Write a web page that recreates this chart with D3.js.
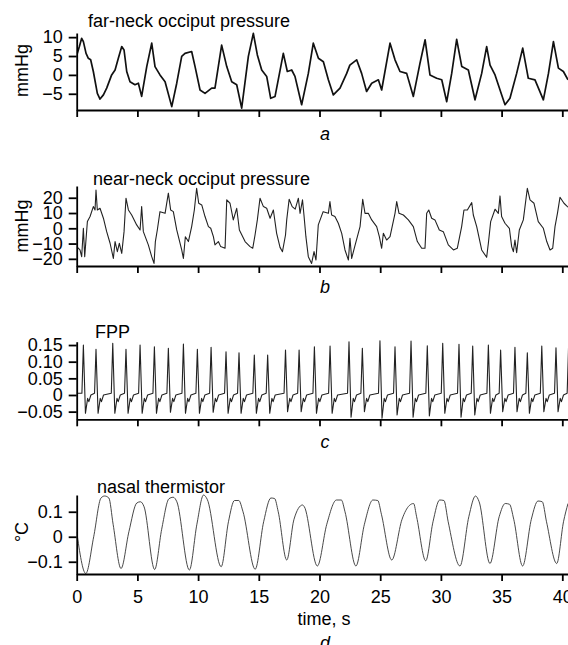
<!DOCTYPE html>
<html>
<head>
<meta charset="utf-8">
<script src="https://cdn.jsdelivr.net/npm/d3@7"></script>
<style>
  body { margin: 0; background: #fff; }
  svg text { font-family: "Liberation Sans", Arial, Helvetica, sans-serif; fill: #000; }
</style>
</head>
<body>
<div id="chart"></div>
<script>
// ---- data ----
const timeTicks = [0, 5, 10, 15, 20, 25, 30, 35, 40];

// a: far-neck occiput pressure, mmHg  [time s, value]
const farNeck = [
  [0.05, 5.7], [0.22, 7.5], [0.41, 9.7], [0.55, 8.8], [0.77, 5.7], [0.96, 4.4], [1.15, 4.0], [1.37, 0.9],
  [1.7, -4.9], [1.92, -6.4], [2.2, -5.3], [2.47, -3.5], [2.88, 0], [3.16, 1.3], [3.43, 4.4], [3.71, 7.5],
  [3.9, 6.6], [4.12, 0.9], [4.39, -1.8], [4.8, -2.6], [5.08, -2.2], [5.35, -5.7], [5.77, 2.2], [6.18, 8.4],
  [6.45, 2.2], [6.86, 0], [7.28, -1.8], [7.83, -8.4], [8.24, -2.2], [8.65, 4.9], [8.92, 5.7], [9.47, 6.2],
  [9.75, 2.2], [10.16, -4.0], [10.57, -4.9], [11.12, -3.5], [11.39, -3.5], [11.94, 7.9], [12.36, 2.2],
  [12.77, -1.8], [13.18, -2.6], [13.59, -8.8], [14.14, 4.9], [14.55, 11.0], [14.88, 5.3], [15.24, 1.3],
  [15.65, -0.4], [15.98, -6.2], [16.34, -5.7], [17.02, 5.7], [17.35, 0.9], [17.71, 1.3], [17.98, -0.4],
  [18.53, -7.9], [19.08, 0.4], [19.49, 8.4], [19.91, 4.4], [20.32, 3.5], [20.73, -1.3], [21.14, -5.3],
  [21.69, -3.5], [22.24, 0.4], [22.5, 2.6], [23.06, 4.0], [23.47, 0.4], [23.88, -4.4], [24.3, -2.2],
  [24.85, -1.3], [25.12, -4.0], [25.81, 8.4], [26.22, 4.0], [26.63, 0.9], [27.18, 0.4], [27.73, -5.7],
  [28.28, 3.1], [28.7, 9.3], [29.1, 0], [29.65, -0.9], [30.07, -1.3], [30.48, -7.1], [30.89, 0.4],
  [31.3, 9.4], [31.72, 2.2], [32.26, 1.3], [32.81, -6.6], [33.36, 0.4], [33.77, 7.5], [34.05, 2.6],
  [34.46, 0], [35.01, -5.3], [35.28, -7.9], [35.69, -6.2], [36.24, 0.4], [36.74, 7.1], [37.2, -0.9],
  [37.75, -1.3], [38.44, -6.6], [38.86, 0.4], [39.27, 8.8], [39.68, 1.8], [40.09, 0.9], [40.47, -1.3]
];

// b: near-neck occiput pressure, mmHg
const nearNeck = [
  [0, -12.0], [0.27, -14.2], [0.41, -18.6], [0.55, 0], [0.66, -18.6], [0.88, 4.4], [1.1, 7.7], [1.37, 14.2],
  [1.51, 12.0], [1.59, 25.1], [1.7, 12.0], [1.92, 13.1], [2.2, 6.6], [2.47, -2.2], [2.75, -9.8], [3.02, -19.7],
  [3.16, -8.7], [3.35, -15.3], [3.51, -9.8], [3.71, -16.4], [3.9, -2.2], [4.06, 19.7], [4.26, 12.0],
  [4.53, 8.7], [4.94, 2.2], [5.22, -1.1], [5.35, 14.2], [5.49, -2.2], [5.9, -10.9], [6.18, -18.6],
  [6.37, -23.0], [6.48, -8.7], [6.64, -1.1], [6.86, 10.9], [7.28, 9.8], [7.55, 23.0], [7.74, 12.0],
  [7.96, 10.9], [8.24, -1.1], [8.65, -14.2], [8.79, -19.7], [8.95, -5.5], [9.2, -8.7], [9.47, 1.1],
  [9.69, 12.0], [9.88, 26.2], [10.05, 16.4], [10.3, 15.3], [10.57, 7.7], [10.85, 1.1], [11.04, 0],
  [11.26, -5.5], [11.39, -10.9], [11.67, -8.7], [11.86, -12.0], [12.22, -13.1], [12.36, 18.6], [12.63, 16.4],
  [12.9, 5.5], [13.18, 13.1], [13.4, -1.1], [13.87, -8.7], [14.28, -12.0], [14.5, -13.1], [14.69, -4.4],
  [14.88, 5.5], [15.1, 19.7], [15.38, 14.2], [15.65, 13.1], [15.93, 6.6], [16.2, 12.0], [16.47, -3.3],
  [16.75, -12.5], [16.95, -15.3], [17.2, -4.4], [17.3, 5.5], [17.5, 19.0], [17.75, 14.2], [18.0, 12.5],
  [18.26, 19.7], [18.4, 9.8], [18.6, 18.6], [18.72, 8.7], [18.88, -5.5], [19.08, -18.6], [19.35, -23.0],
  [19.55, -15.3], [19.71, -20.8], [19.9, 2.2], [20.3, 10.9], [20.73, 9.8], [20.86, 17.5], [21.0, 8.7],
  [21.27, 7.7], [21.55, 3.3], [21.83, -3.3], [22.1, -14.2], [22.38, -20.8], [22.51, -6.6], [22.65, -19.7],
  [22.9, -12.0], [23.34, 1.1], [23.56, 19.0], [23.75, 9.8], [24.02, 9.8], [24.3, 5.5], [24.71, 1.1],
  [24.93, -5.5], [25.12, -13.1], [25.26, -3.3], [25.53, -7.7], [25.81, -5.5], [26.22, 9.8], [26.36, 17.5],
  [26.55, 9.8], [26.91, 8.7], [27.32, 5.5], [27.73, 1.1], [28.06, -8.7], [28.42, -13.1], [28.69, -13.1],
  [28.83, 9.8], [29.0, 12.0], [29.24, 6.6], [29.51, 5.5], [29.87, -1.1], [30.2, -2.2], [30.61, -10.9],
  [31.03, -14.2], [31.35, -13.1], [31.71, 1.1], [31.9, 12.0], [32.18, 12.0], [32.54, 16.8], [32.67, 8.7],
  [32.95, 1.1], [33.36, -14.2], [33.77, -19.0], [33.91, -9.8], [34.1, 4.4], [34.46, 12.5], [34.73, 9.8],
  [34.87, 21.2], [35.0, 7.7], [35.28, 3.3], [35.64, 0], [35.83, -12.0], [35.97, -15.3], [36.1, -7.7],
  [36.24, -16.0], [36.46, -1.1], [36.79, 5.5], [37.12, 26.2], [37.34, 18.6], [37.67, 16.4], [38.02, 4.4],
  [38.44, 0], [38.72, -8.7], [38.99, -14.2], [39.21, -13.1], [39.4, 1.1], [39.6, 9.8], [39.81, 20.3],
  [40.14, 16.4], [40.47, 13.8]
];

// c: FPP, one entry per beat
const fppBeatTimes = [0.55, 1.59, 2.97, 4.06, 5.22, 6.40, 7.55, 8.79, 9.94, 11.07, 12.30, 13.37, 14.63, 15.73,
  17.20, 18.32, 19.58, 20.87, 22.43, 23.53, 24.98, 26.22, 27.54, 28.88, 30.15, 31.49, 32.62, 33.91, 34.92,
  36.10, 37.12, 38.31, 39.48, 40.52];
const fppPeaks = [0.150, 0.137, 0.155, 0.137, 0.150, 0.145, 0.140, 0.153, 0.137, 0.143, 0.130, 0.127, 0.120,
  0.120, 0.135, 0.135, 0.145, 0.147, 0.160, 0.140, 0.163, 0.145, 0.162, 0.148, 0.155, 0.152, 0.147, 0.150,
  0.135, 0.143, 0.127, 0.147, 0.142, 0.150];
const fppTroughs = [-0.055, -0.055, -0.055, -0.055, -0.055, -0.055, -0.052, -0.055, -0.055, -0.052, -0.055,
  -0.055, -0.055, -0.055, -0.050, -0.050, -0.055, -0.055, -0.067, -0.050, -0.070, -0.060, -0.067, -0.063,
  -0.055, -0.067, -0.060, -0.055, -0.050, -0.050, -0.055, -0.050, -0.050, -0.055];
// shape of one beat: offset from the peak (s) and level (peak / trough of that beat)
const fppShapeOffsets = [-0.12, 0, 0.17, 0.35, 0.45, 0.62];
const fppShapeLevels = [0.005, "peak", "trough", -0.01, -0.02, 0.0];

// d: nasal thermistor, degC
const thermistor = [
  [0, 0.02], [0.75, -0.147], [1.4, 0.0], [2.0, 0.155], [2.3, 0.163], [2.65, 0.155], [3.0, 0.05],
  [3.65, -0.127], [4.3, 0.02], [4.95, 0.135], [5.25, 0.14], [5.55, 0.12], [6.42, -0.131], [7.0, 0.03],
  [7.6, 0.152], [7.95, 0.158], [8.25, 0.14], [9.28, -0.133], [9.9, 0.05], [10.45, 0.167], [10.75, 0.15],
  [11.9, -0.12], [12.5, 0.06], [13.0, 0.145], [13.35, 0.145], [13.7, 0.1], [14.7, -0.13], [15.4, 0.06],
  [16.0, 0.155], [16.3, 0.153], [16.6, 0.1], [17.3, -0.093], [17.9, 0.07], [18.6, 0.127], [18.75, 0.12],
  [19.82, -0.117], [20.6, 0.05], [21.4, 0.147], [21.8, 0.147], [22.1, 0.1], [23.0, -0.117], [23.7, 0.05],
  [24.4, 0.147], [24.8, 0.145], [25.1, 0.09], [25.95, -0.093], [26.8, 0.07], [27.4, 0.125], [27.75, 0.133],
  [28.0, 0.08], [28.75, -0.096], [29.35, 0.06], [29.9, 0.147], [30.25, 0.145], [30.6, 0.06], [31.57, -0.117],
  [32.3, 0.08], [32.85, 0.163], [33.15, 0.14], [34.04, -0.107], [34.8, 0.08], [35.3, 0.133], [35.65, 0.13],
  [36.0, 0.07], [36.73, -0.117], [37.45, 0.07], [38.0, 0.143], [38.35, 0.14], [38.7, 0.06], [39.54, -0.107],
  [40.1, 0.06], [40.47, 0.133]
];

const aTicks = [-5, 0, 5, 10];
const bTicks = [-20, -10, 0, 10, 20];
const cTicks = [-0.05, 0, 0.05, 0.10, 0.15];
const dTicks = [-0.1, 0, 0.1];

// build the FPP trace from the beat table
const fpp = [[0, 0.005]];
fppBeatTimes.forEach((t, i) => {
  fppShapeOffsets.forEach((dt, j) => {
    const lv = fppShapeLevels[j];
    const v = lv === "peak" ? fppPeaks[i] : lv === "trough" ? fppTroughs[i] : lv;
    fpp.push([t + dt, v]);
  });
});

// ---- layout ----
const W = 568, H = 645;
const svg = d3.select("#chart").append("svg")
    .attr("width", W)
    .attr("height", H);

svg.append("clipPath").attr("id", "plotclip")
  .append("rect").attr("x", 76.7).attr("y", 0).attr("width", W - 76.7).attr("height", H);

const x = d3.scaleLinear().domain([0, 40.47]).range([76.7, 568]);

const fmt2 = d => d === 0 ? "0" : d3.format(".2f")(d);
const fmt1 = d => d === 0 ? "0" : d3.format(".1f")(d);

const panels = [
  { data: farNeck, domain: [-9.3, 11.1], top: 33, bottom: 110, ticks: aTicks, fmt: d3.format("d"),
    title: "far-neck occiput pressure", tx: 88, ty: 27, ylabel: "mmHg", ly: 70.5, letter: "a", lb: 140,
    sw: 1.7, col: "#111" },
  { data: nearNeck, domain: [-24.7, 27.7], top: 186, bottom: 266, ticks: bTicks, fmt: d3.format("d"),
    title: "near-neck occiput pressure", tx: 93, ty: 185, ylabel: "mmHg", ly: 226, letter: "b", lb: 293,
    sw: 1.1, col: "#222" },
  { data: fpp, domain: [-0.073, 0.16], top: 341.7, bottom: 419.3, ticks: cTicks, fmt: fmt2,
    title: "FPP", tx: 95, ty: 338, ylabel: null, letter: "c", lb: 448, sw: 1.1, col: "#222" },
  { data: thermistor, domain: [-0.149, 0.167], top: 495, bottom: 574, ticks: dTicks, fmt: fmt1,
    title: "nasal thermistor", tx: 97, ty: 493, ylabel: "°C", ly: 532, letter: "d", lb: 649,
    sw: 0.9, col: "#333", xlabels: true, smooth: true }
];

panels.forEach(p => {
  const y = d3.scaleLinear().domain(p.domain).range([p.bottom, p.top]);
  const g = svg.append("g");

  // trace
  const line = d3.line()
      .x(d => x(d[0]))
      .y(d => y(d[1]))
      .curve(p.smooth ? d3.curveMonotoneX : d3.curveLinear);
  g.append("path")
      .datum(p.data)
      .attr("clip-path", "url(#plotclip)")
      .attr("fill", "none")
      .attr("stroke", p.col)
      .attr("stroke-width", p.sw)
      .attr("stroke-linejoin", "round")
      .attr("d", line);

  // y axis
  const ya = g.append("g")
      .attr("transform", "translate(76.7,0)")
      .call(d3.axisLeft(y).tickValues(p.ticks).tickFormat(p.fmt).tickSize(8).tickSizeOuter(0).tickPadding(6));

  // x axis
  const xa = g.append("g")
      .attr("transform", `translate(0,${p.bottom})`)
      .call(d3.axisBottom(x).tickValues(timeTicks).tickSize(7).tickSizeOuter(0).tickPadding(9)
        .tickFormat(p.xlabels ? d3.format("d") : ""));

  [ya, xa].forEach(a => {
    a.select(".domain").attr("stroke", "#000").attr("stroke-width", 1.8);
    a.selectAll(".tick line").attr("stroke", "#000").attr("stroke-width", 1.8);
    a.selectAll("text").attr("font-size", 18).attr("fill", "#000")
      .style("font-family", "'Liberation Sans', Arial, Helvetica, sans-serif");
  });

  // title
  g.append("text")
      .attr("x", p.tx).attr("y", p.ty)
      .attr("font-size", 18)
      .text(p.title);

  // y label
  if (p.ylabel) {
    g.append("text")
        .attr("transform", `translate(28,${p.ly}) rotate(-90)`)
        .attr("text-anchor", "middle")
        .attr("font-size", 18)
        .text(p.ylabel);
  }

  if (p.xlabels) {
    g.append("text")
        .attr("x", 324).attr("y", 625)
        .attr("text-anchor", "middle")
        .attr("font-size", 18)
        .text("time, s");
  }

  // panel letter
  g.append("text")
      .attr("x", 325).attr("y", p.lb)
      .attr("text-anchor", "middle")
      .attr("font-size", 18)
      .attr("font-style", "italic")
      .text(p.letter);
});
</script>
</body>
</html>
